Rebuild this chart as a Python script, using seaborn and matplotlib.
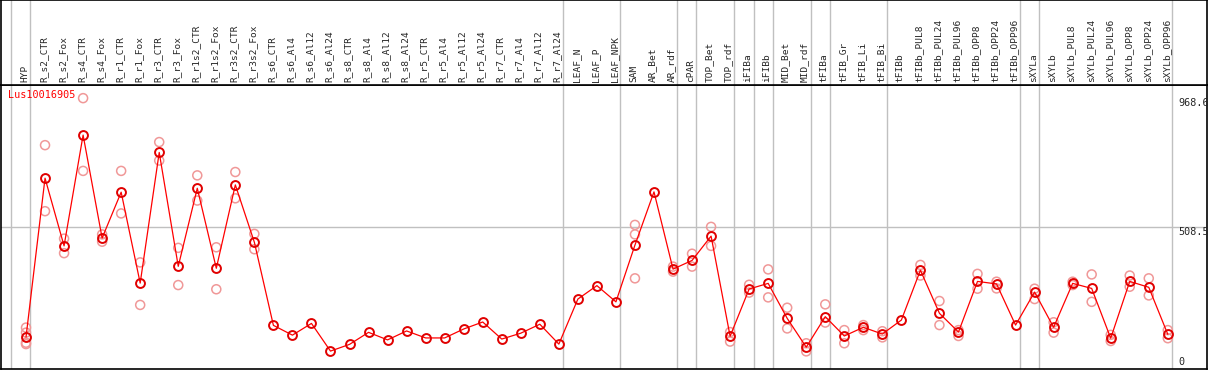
import pandas as pd
import numpy as np
import matplotlib
matplotlib.use("Agg")
import matplotlib.pyplot as plt
import seaborn as sns

# nhãn cột (mẫu)
labels = ["HYP", "R_s2_CTR", "R_s2_Fox", "R_s4_CTR", "R_s4_Fox", "R_r1_CTR", "R_r1_Fox",
          "R_r3_CTR", "R_r3_Fox", "R_r1s2_CTR", "R_r1s2_Fox", "R_r3s2_CTR", "R_r3s2_Fox",
          "R_s6_CTR", "R_s6_Al4", "R_s6_Al12", "R_s6_Al24", "R_s8_CTR", "R_s8_Al4", "R_s8_Al12",
          "R_s8_Al24", "R_r5_CTR", "R_r5_Al4", "R_r5_Al12", "R_r5_Al24", "R_r7_CTR", "R_r7_Al4",
          "R_r7_Al12", "R_r7_Al24", "LEAF_N", "LEAF_P", "LEAF_NPK", "SAM", "AR_Bet", "AR_rdf",
          "cPAR", "TOP_Bet", "TOP_rdf", "iFIBa", "iFIBb", "MID_Bet", "MID_rdf", "tFIBa",
          "tFIB_Gr", "tFIB_Li", "tFIB_Bi", "tFIBb", "tFIBb_PUL8", "tFIBb_PUL24", "tFIBb_PUL96",
          "tFIBb_OPP8", "tFIBb_OPP24", "tFIBb_OPP96", "sXYLa", "sXYLb", "sXYLb_PUL8",
          "sXYLb_PUL24", "sXYLb_PUL96", "sXYLb_OPP8", "sXYLb_OPP24", "sXYLb_OPP96"]

# giá trị trung bình
means = [114, 682, 440, 836, 468, 632, 307, 774, 367, 646, 360, 658, 453,
         156, 121, 163, 64, 88, 131, 104, 136, 111, 111, 143, 168, 107, 128, 160, 89,
         250, 298, 240, 443, 633, 357, 388, 475, 117, 286, 306, 181, 78, 187,
         118, 149, 125, 175, 353, 199, 132, 313, 304, 157, 275, 149, 306,
         288, 110, 313, 292, 124]

# các lần lặp (replicates)
reps = [[148, 130, 94, 89], [800, 564], [466, 414], [968, 708], [481, 455], [708, 556], [381, 229],
        [811, 745], [433, 300], [692, 602], [435, 285], [704, 610], [483, 428],
        [], [], [], [], [], [], [], [], [], [], [], [], [], [], [], [],
        [], [], [], [515, 481, 324], [], [366, 348], [412, 366], [508, 440], [132, 98],
        [301, 273], [356, 256], [219, 145], [92, 63], [231, 166],
        [139, 92], [157, 139], [135, 113], [], [372, 334], [243, 157], [139, 118],
        [340, 287], [312, 288], [], [287, 250], [167, 130], [312, 300],
        [338, 240], [122, 100], [334, 294], [324, 263], [139, 110]]

# các đường phân nhóm (sau cột i)
group_breaks = [-1, 0, 28, 31, 34, 35, 37, 38, 39, 41, 42, 45, 52, 53, 60]
gene = "Lus10016905"
ticks = [968.6, 508.5, 0]

W, H = 1209, 370
x_left, x_right = -1.314, 62.06
y_top = 1015

sns.set_style("white")
plt.rcParams["font.family"] = ["DejaVu Sans Mono", "DejaVu Sans"]

fig = plt.figure(figsize=(W / 100, H / 100), dpi=100)
ax = fig.add_axes([1 / W, 1 / H, 1206 / W, 284 / H])
hx = fig.add_axes([1 / W, 285 / H, 1206 / W, 85 / H])

idx = np.arange(len(labels))
df_mean = pd.DataFrame({"x": idx, "v": means})
rx, rv = [], []
for i, r in enumerate(reps):
    for v in r:
        rx.append(i)
        rv.append(v)
df_rep = pd.DataFrame({"x": rx, "v": rv})

# lưới
for b in group_breaks:
    ax.axvline(b + 0.23, color="#c0c0c0", lw=1, zorder=0)
    hx.axvline(b + 0.23, color="#c0c0c0", lw=1, zorder=0)
ax.axhline(508.5, color="#c0c0c0", lw=1, zorder=0)

sns.scatterplot(data=df_rep, x="x", y="v", ax=ax, marker="o", s=42,
                facecolor="none", edgecolor="#f09898", linewidth=1.1, zorder=2)
sns.lineplot(data=df_mean, x="x", y="v", ax=ax, color="#ff0000", lw=0.9,
             marker="o", markersize=6.4, markerfacecolor="none",
             markeredgecolor="#e00000", markeredgewidth=1.4, zorder=3)

ax.set_xlim(x_left, x_right)
ax.set_ylim(0, y_top)
ax.set_xticks([])
ax.set_yticks([])
ax.set_xlabel("")
ax.set_ylabel("")
for s in ax.spines.values():
    s.set_color("black")
    s.set_linewidth(1.2)

ax.text(-0.93, y_top - 18, gene, color="red", fontsize=7.3, va="top", ha="left")
for t in ticks:
    ax.text(60.54, t if t > 0 else 6, f"{t:g}", fontsize=7.3,
            va="top" if t > 0 else "bottom", ha="left")

hx.set_xlim(x_left, x_right)
hx.set_ylim(0, 1)
hx.set_xticks([])
hx.set_yticks([])
for s in hx.spines.values():
    s.set_color("black")
    s.set_linewidth(1.2)
for i, lab in enumerate(labels):
    hx.text(i - 0.08, 0.03, lab, rotation=90, fontsize=6.8, ha="center", va="bottom")

fig.savefig("out.png", dpi=100)
